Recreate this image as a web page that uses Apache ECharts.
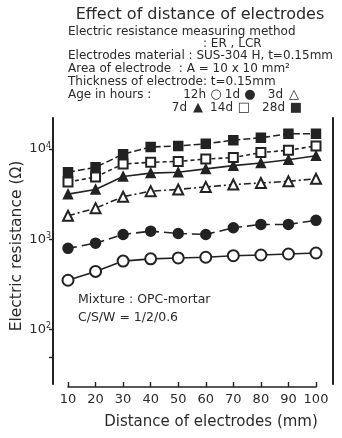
<!DOCTYPE html>
<html>
<head>
<meta charset="utf-8">
<script src="https://cdn.jsdelivr.net/npm/echarts@6/dist/echarts.min.js"></script>
<style>
    html, body { margin: 0; padding: 0; background: #fff; }
    #chart { width: 342px; height: 438px; }
</style>
</head>
<body>
<div id="chart"></div>
<script>
// distance of electrodes (mm)
var distances = [10, 20, 30, 40, 50, 60, 70, 80, 90, 100]
// electric resistance (ohm) by age
var r12h = [352, 441, 573, 607, 621, 632, 658, 670, 687, 705]
var r1d = [793, 906, 1130, 1230, 1160, 1130, 1340, 1460, 1460, 1620]
var r3d = [1820, 2210, 2960, 3410, 3560, 3800, 4030, 4200, 4380, 4680]
var r7d = [3160, 3560, 4960, 5400, 5520, 6010, 6530, 6990, 7580, 8390]
var r14d = [4300, 4880, 6810, 7100, 7280, 7730, 8040, 9120, 9680, 10800]
var r28d = [5520, 6270, 8750, 10500, 10800, 11400, 12500, 13300, 14700, 14700]
var yTicks = [50, 100, 1000, 10000]
var yLabels = [100, 1000, 10000]

var ink = '#222'
var font = 'DejaVu Sans'

function pairs (vals) {
    return distances.map(function (d, i) { return [d, vals[i]] })
}

function mkSeries (name, vals, symbol, size, lineType) {
    return {
        name: name,
        type: 'line',
        data: pairs(vals),
        symbol: symbol,
        symbolSize: size,
        showSymbol: true,
        lineStyle: { color: ink, width: 1.6, type: lineType },
        itemStyle: { color: ink, borderColor: ink, borderWidth: 1.5 },
        emphasis: { disabled: true },
        z: 3
    }
}

function txt (x, y, text, size, extra) {
    var style = { x: x, y: y, text: text, fill: '#2a2a2a', font: (size || 12) + 'px "' + font + '"', textVerticalAlign: 'middle' }
    if (extra) { for (var k in extra) style[k] = extra[k] }
    return { type: 'text', style: style, z: 10 }
}

var right = { textAlign: 'right' }
var mid = { textAlign: 'center' }

var chart = echarts.init(document.getElementById('chart'))
chart.setOption({
    backgroundColor: '#fff',
    animation: false,
    grid: { left: 68, right: 26, top: 118, bottom: 54 },
    xAxis: {
        type: 'value',
        min: 10,
        max: 100,
        interval: 10,
        offset: 3,
        axisLine: { lineStyle: { color: ink, width: 1.6 } },
        axisTick: { inside: true, length: 5, lineStyle: { color: ink, width: 1.4 } },
        axisLabel: { color: '#2a2a2a', fontSize: 13, fontFamily: font, margin: 6 },
        splitLine: { show: false }
    },
    yAxis: [{
        type: 'log',
        min: 25,
        max: 22000,
        offset: 15,
        axisLine: { lineStyle: { color: ink, width: 2 } },
        axisTick: { customValues: yTicks, length: 4, lineStyle: { color: ink, width: 1.4 } },
        axisLabel: {
            customValues: yLabels,
            color: '#2a2a2a',
            fontFamily: font,
            fontSize: 13,
            margin: 2,
            formatter: function (v) {
                return '10{s|' + Math.round(Math.log10(v)) + '}'
            },
            rich: {
                s: { fontSize: 8, fontFamily: font, verticalAlign: 'top', padding: [0, 0, 7, 0] }
            }
        },
        splitLine: { show: false },
        minorTick: { show: false }
    }, {
        type: 'log',
        min: 25,
        max: 22000,
        position: 'right',
        offset: 17,
        axisLine: { show: true, lineStyle: { color: ink, width: 2 } },
        axisTick: { show: false },
        axisLabel: { show: false },
        splitLine: { show: false }
    }],
    series: [
        mkSeries('12h', r12h, 'emptyCircle', 11, 'solid'),
        mkSeries('1d', r1d, 'circle', 10, [9, 5]),
        mkSeries('3d', r3d, 'emptyTriangle', 10, [7, 3, 2, 3]),
        mkSeries('7d', r7d, 'triangle', 9, 'solid'),
        mkSeries('14d', r14d, 'emptyRect', 9, [4, 3]),
        mkSeries('28d', r28d, 'rect', 9, [7, 3])
    ],
    graphic: [
        txt(200, 15, 'Effect of distance of electrodes', 16, mid),
        txt(68, 32, 'Electric resistance measuring method', 12),
        txt(203, 44, ': ER , LCR', 12),
        txt(68, 56, 'Electrodes material : SUS-304 H, t=0.15mm', 12),
        txt(68, 69, 'Area of electrode  : A = 10 x 10 mm\u00b2', 12),
        txt(68, 82, 'Thickness of electrode: t=0.15mm', 12),
        txt(68, 95, 'Age in hours :', 12),
        txt(206, 95, '12h', 12, right),
        txt(216, 95, '\u25cb', 13, mid),
        txt(240, 95, '1d', 12, right),
        txt(250, 95, '\u25cf', 13, mid),
        txt(283, 95, '3d', 12, right),
        txt(294, 95, '\u25b3', 13, mid),
        txt(187, 108, '7d', 12, right),
        txt(198, 108, '\u25b2', 13, mid),
        txt(233, 108, '14d', 12, right),
        txt(244, 108, '\u25a1', 13, mid),
        txt(285, 108, '28d', 12, right),
        txt(296, 108, '\u25a0', 13, mid),
        txt(78, 300, 'Mixture : OPC-mortar', 12.5),
        txt(78, 318, 'C/S/W = 1/2/0.6', 12.5),
        txt(211, 422, 'Distance of electrodes (mm)', 15, mid),
        {
            type: 'text',
            x: 17,
            y: 246,
            rotation: Math.PI / 2,
            style: { x: 0, y: 0, text: 'Electric resistance (\u03a9)', fill: '#2a2a2a', font: '15.5px "' + font + '"', textAlign: 'center', textVerticalAlign: 'middle' },
            z: 10
        }
    ]
})
</script>
</body>
</html>
